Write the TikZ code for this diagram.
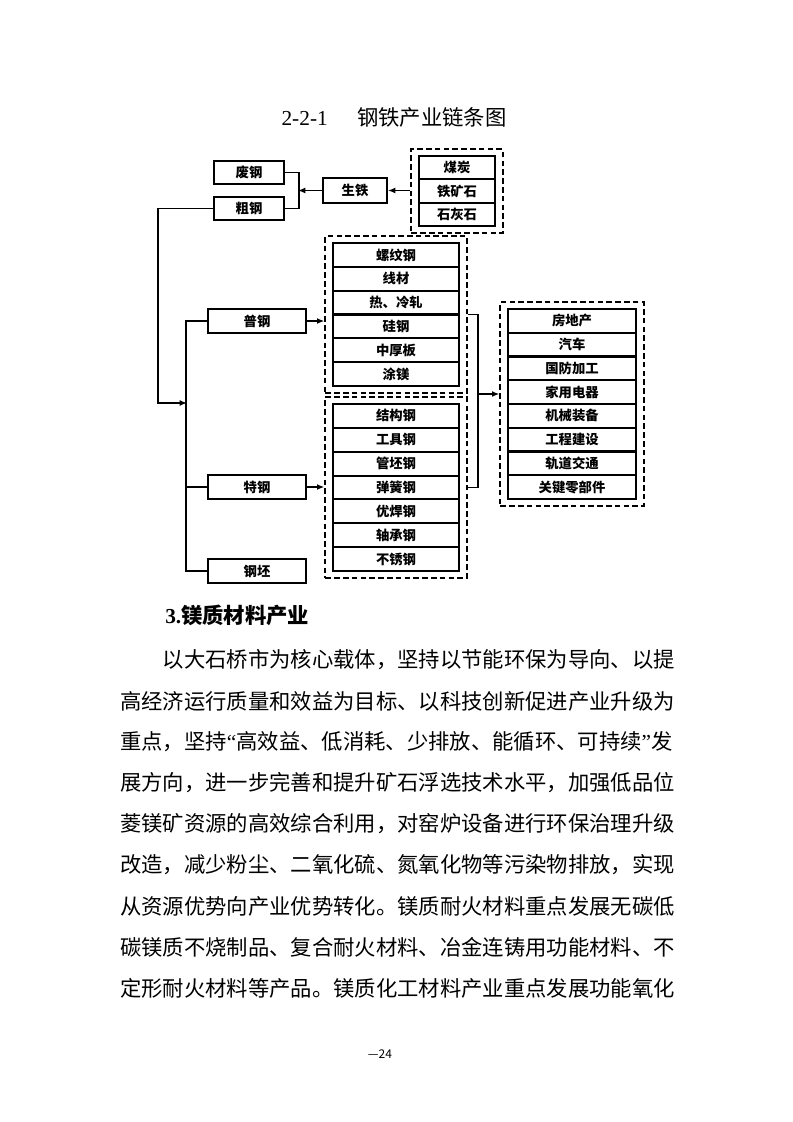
\documentclass[tikz,border=0pt]{standalone}
\usepackage{fontspec}
\setmainfont{Liberation Serif}
\newfontfamily\cjk{Noto Sans CJK SC}
\usetikzlibrary{arrows.meta,fit}
\tikzset{
  cell/.style={draw, line width=1.5pt, inner sep=0pt, font=\cjk\bfseries\fontsize{10}{10}\selectfont},
  group/.style={draw, dash pattern=on 4.2pt off 2.4pt, line width=1.5pt, inner xsep=5pt, inner ysep=4.3pt},
  link/.style={line width=1.4pt},
  feed/.style={line width=1.4pt, -{Latex[length=5.5pt,width=4.5pt]}},
  bodyline/.style={anchor=west, inner sep=0pt, font=\cjk\fontsize{16}{16}\selectfont}
}

\begin{document}
\begin{tikzpicture}[x=0.75pt, y=-0.75pt]
    \useasboundingbox (0,0) rectangle (793,1122);
    % caption
    \node[inner sep=0pt] (caption) at (394,117) {\fontsize{16}{16}\selectfont 2-2-1\hspace{22pt}{\cjk 钢铁产业链条图}};
    % raw materials, pig iron, steel
    \node[cell, minimum width=57pt, minimum height=17.6pt] (coal) at (457,167.7) {煤炭};
    \node[cell, minimum width=57pt, minimum height=17.6pt] (ore) at (457,191.2) {铁矿石};
    \node[cell, minimum width=57pt, minimum height=17.6pt] (lime) at (457,214.7) {石灰石};
    \node[group, fit=(coal)(lime)] (raw) {};
    \node[cell, minimum width=48pt, minimum height=18.75pt] (pig) at (355,190.5) {生铁};
    \node[cell, minimum width=52.5pt, minimum height=17.3pt] (scrap) at (249,172.5) {废钢};
    \node[cell, minimum width=52.5pt, minimum height=17.3pt] (crude) at (249,208.5) {粗钢};
    \coordinate (join) at (298,190.5);
    \draw[feed] (raw.west |- pig.east) -- (pig.east);
    \draw[feed] (pig.west) -- (join);
    \draw[link] (scrap.east) -- ++(14,0) |- (crude.east);
    % steel grades
    \node[cell, minimum width=73.5pt, minimum height=18pt] (plain) at (257,321) {普钢};
    \node[cell, minimum width=73.5pt, minimum height=18pt] (special) at (257,487) {特钢};
    \node[cell, minimum width=73.5pt, minimum height=18pt] (billet) at (257,571) {钢坯};
    \coordinate (bend) at (158,403);
    \coordinate (trunk) at (187,403);
    \draw[feed] (crude.west) -| (bend) -- (trunk);
    \draw[link] (plain.west) -- ++(-21,0) |- (billet.west);
    \draw[link] (special.west) -- ++(-21,0);
    % plain steel products
    \node[cell, minimum width=94.5pt, minimum height=17.9pt] (p1) at (396,254.9) {螺纹钢};
    \node[cell, minimum width=94.5pt, minimum height=17.9pt] (p2) at (396,278.7) {线材};
    \node[cell, minimum width=94.5pt, minimum height=17.9pt] (p3) at (396,302.6) {热、冷轧};
    \node[cell, minimum width=94.5pt, minimum height=17.9pt] (p4) at (396,326.4) {硅钢};
    \node[cell, minimum width=94.5pt, minimum height=17.9pt] (p5) at (396,350.2) {中厚板};
    \node[cell, minimum width=94.5pt, minimum height=17.9pt] (p6) at (396,374.1) {涂镁};
    \node[group, fit=(p1)(p6)] (plaingroup) {};
    % special steel products
    \node[cell, minimum width=94.5pt, minimum height=17.9pt] (s1) at (396,415.9) {结构钢};
    \node[cell, minimum width=94.5pt, minimum height=17.9pt] (s2) at (396,439.8) {工具钢};
    \node[cell, minimum width=94.5pt, minimum height=17.9pt] (s3) at (396,463.6) {管坯钢};
    \node[cell, minimum width=94.5pt, minimum height=17.9pt] (s4) at (396,487.5) {弹簧钢};
    \node[cell, minimum width=94.5pt, minimum height=17.9pt] (s5) at (396,511.4) {优焊钢};
    \node[cell, minimum width=94.5pt, minimum height=17.9pt] (s6) at (396,535.2) {轴承钢};
    \node[cell, minimum width=94.5pt, minimum height=17.9pt] (s7) at (396,559.1) {不锈钢};
    \node[group, fit=(s1)(s7)] (specialgroup) {};
    \draw[feed] (plain.east) -- (plaingroup.west |- plain.east);
    \draw[feed] (special.east) -- (specialgroup.west |- special.east);
    % end uses
    \node[cell, minimum width=96pt, minimum height=17.8pt] (u1) at (572,320.9) {房地产};
    \node[cell, minimum width=96pt, minimum height=17.8pt] (u2) at (572,344.6) {汽车};
    \node[cell, minimum width=96pt, minimum height=17.8pt] (u3) at (572,368.4) {国防加工};
    \node[cell, minimum width=96pt, minimum height=17.8pt] (u4) at (572,392.1) {家用电器};
    \node[cell, minimum width=96pt, minimum height=17.8pt] (u5) at (572,415.9) {机械装备};
    \node[cell, minimum width=96pt, minimum height=17.8pt] (u6) at (572,439.6) {工程建设};
    \node[cell, minimum width=96pt, minimum height=17.8pt] (u7) at (572,463.4) {轨道交通};
    \node[cell, minimum width=96pt, minimum height=17.8pt] (u8) at (572,487.1) {关键零部件};
    \node[group, fit=(u1)(u8)] (usegroup) {};
    \coordinate (merge) at (477,394);
    \draw[link] (plaingroup.east) -- ++(10,0) |- (specialgroup.east);
    \draw[feed] (merge) -- (usegroup.west |- merge);
    % text below the chart
    \node[anchor=west, inner sep=0pt] (heading) at (165,615) {\fontsize{16}{16}\selectfont\bfseries 3.{\cjk 镁质材料产业}};
    \node[bodyline] (l1) at (120,660) {\hspace*{32pt}以大石桥市为核心载体，坚持以节能环保为导向、以提};
    \node[bodyline] (l2) at (120,701) {高经济运行质量和效益为目标、以科技创新促进产业升级为};
    \node[bodyline] (l3) at (120,742) {重点，坚持{\rmfamily “}高效益、低消耗、少排放、能循环、可持续{\rmfamily ”}发};
    \node[bodyline] (l4) at (120,783) {展方向，进一步完善和提升矿石浮选技术水平，加强低品位};
    \node[bodyline] (l5) at (120,824) {菱镁矿资源的高效综合利用，对窑炉设备进行环保治理升级};
    \node[bodyline] (l6) at (120,865) {改造，减少粉尘、二氧化硫、氮氧化物等污染物排放，实现};
    \node[bodyline] (l7) at (120,906) {从资源优势向产业优势转化。镁质耐火材料重点发展无碳低};
    \node[bodyline] (l8) at (120,947) {碳镁质不烧制品、复合耐火材料、冶金连铸用功能材料、不};
    \node[bodyline] (l9) at (120,988) {定形耐火材料等产品。镁质化工材料产业重点发展功能氧化};
    \node[inner sep=0pt] (pageno) at (380,1054) {\cjk\fontsize{9}{9}\selectfont —24};
\end{tikzpicture}
\end{document}
